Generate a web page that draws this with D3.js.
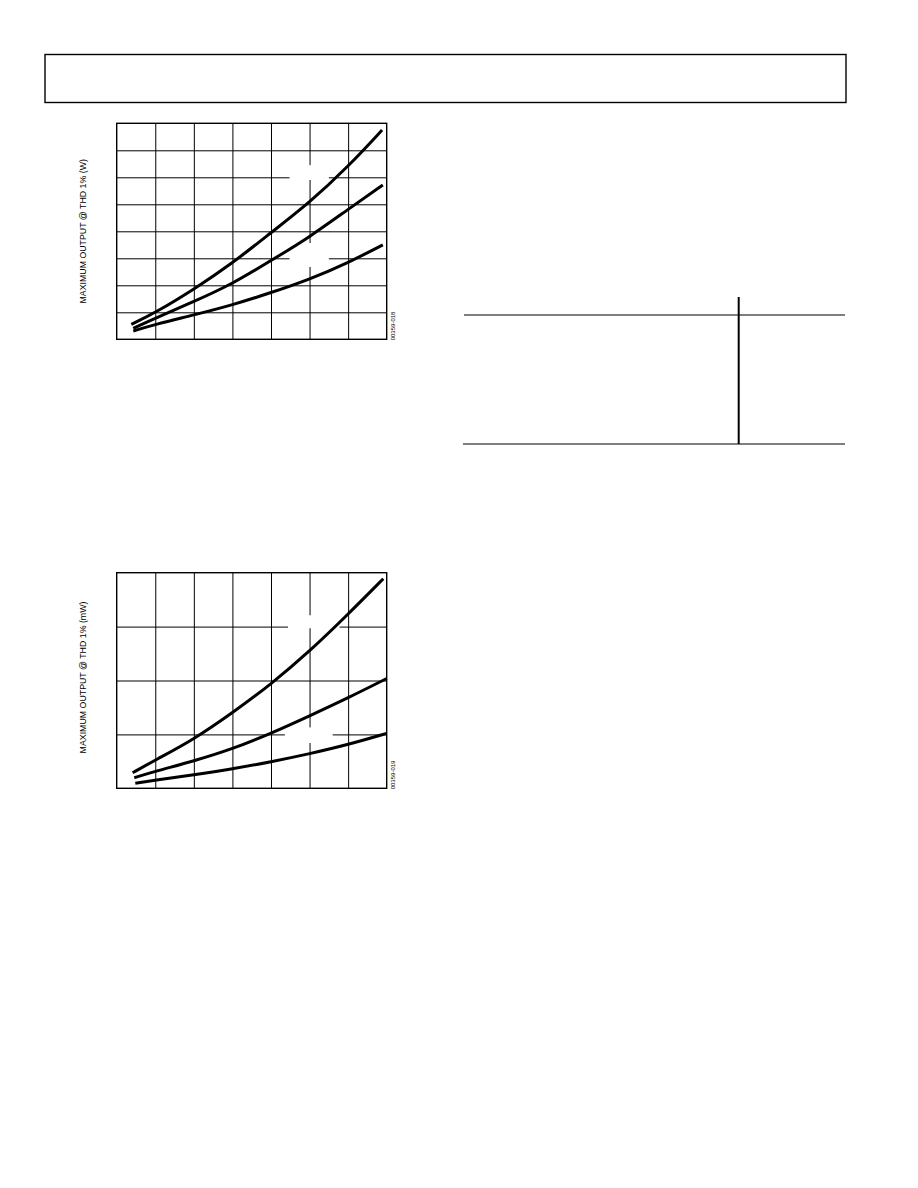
<!DOCTYPE html>
<html>
<head>
<meta charset="utf-8">
<script src="https://cdn.jsdelivr.net/npm/d3@7"></script>
<style>
  html, body { margin: 0; padding: 0; background: #fff; }
  svg { display: block; }
  text { font-family: "Liberation Sans", Arial, sans-serif; fill: #000; }
</style>
</head>
<body>
<svg id="chart" width="918" height="1188"></svg>
<script>
// ---------- DATA ----------
// Supply voltage (V) gridline values (x), shared by both plots
const xTicks = [2.0, 2.5, 3.0, 3.5, 4.0, 4.5, 5.0, 5.5];
// Plot 1: output power (W)
const yTicksW = [0, 0.2, 0.4, 0.6, 0.8, 1.0, 1.2, 1.4, 1.6];
// Plot 2: output power (mW)
const yTicksMW = [0, 100, 200, 300, 400];

const p1X = [2.19, 2.5, 3.0, 3.5, 4.0, 4.5, 5.0, 5.44];
const p1Top = [0.111, 0.197, 0.370, 0.563, 0.790, 1.012, 1.279, 1.550];
const p1MidX = [2.215, 2.5, 3.0, 3.5, 4.0, 4.5, 5.0, 5.45];
const p1Mid = [0.081, 0.156, 0.279, 0.410, 0.583, 0.757, 0.963, 1.143];
const p1Bot = [0.061, 0.111, 0.180, 0.254, 0.345, 0.444, 0.567, 0.699];

const p2TopX = [2.207, 2.5, 3.0, 3.5, 4.0, 4.5, 5.0, 5.456];
const p2Top = [28.9, 52.4, 90.7, 140, 193, 254, 323, 388.9];
const p2MidX = [2.228, 2.5, 3.0, 3.5, 4.0, 4.5, 5.0, 5.5];
const p2Mid = [19.6, 31.5, 50.6, 72.8, 101.9, 134.4, 167.8, 203.7];
const p2BotX = [2.241, 2.5, 3.0, 3.5, 4.0, 4.5, 5.0, 5.5];
const p2Bot = [9.3, 15.0, 25.0, 36.0, 49.0, 64.0, 81.0, 101.9];

// blank label backgrounds (data units: x0, x1, y0, y1)
const p1Boxes = [[4.24, 4.75, 1.18, 1.29], [4.24, 4.75, 0.536, 0.713]];
const p2Boxes = [[4.22, 4.89, 297, 321], [4.18, 4.80, 84, 113]];

const yLabel1 = "MAXIMUM OUTPUT @ THD 1% (W)";
const yLabel2 = "MAXIMUM OUTPUT @ THD 1% (mW)";
const figId1 = "00359-018";
const figId2 = "00359-019";

// ---------- DRAW ----------
const svg = d3.select("#chart");

// header frame
svg.append("rect").attr("x", 45).attr("y", 54.5).attr("width", 801).attr("height", 48)
  .attr("fill", "none").attr("stroke", "#000").attr("stroke-width", 1.4);

// empty table rules on the right
svg.append("line").attr("x1", 464).attr("x2", 845).attr("y1", 315).attr("y2", 315)
  .attr("stroke", "#000").attr("stroke-width", 1.2);
svg.append("line").attr("x1", 463).attr("x2", 845).attr("y1", 444).attr("y2", 444)
  .attr("stroke", "#000").attr("stroke-width", 1.2);
svg.append("line").attr("x1", 738.7).attr("x2", 738.7).attr("y1", 297).attr("y2", 444)
  .attr("stroke", "#000").attr("stroke-width", 2);

function drawPlot(cfg) {
  const g = svg.append("g");
  const x = d3.scaleLinear().domain([xTicks[0], xTicks[xTicks.length - 1]]).range([cfg.left, cfg.right]);
  const y = d3.scaleLinear().domain([cfg.yTicks[0], cfg.yTicks[cfg.yTicks.length - 1]]).range([cfg.bottom, cfg.top]);

  // gridlines via axes
  g.append("g").attr("transform", `translate(0,${cfg.bottom})`)
    .call(d3.axisBottom(x).tickValues(xTicks.slice(1, -1)).tickSize(-(cfg.bottom - cfg.top)).tickFormat(""))
    .call(a => a.select(".domain").remove())
    .call(a => a.selectAll("line").attr("stroke", "#000").attr("stroke-width", 1));
  g.append("g").attr("transform", `translate(${cfg.left},0)`)
    .call(d3.axisLeft(y).tickValues(cfg.yTicks.slice(1, -1)).tickSize(-(cfg.right - cfg.left)).tickFormat(""))
    .call(a => a.select(".domain").remove())
    .call(a => a.selectAll("line").attr("stroke", "#000").attr("stroke-width", 1));

  // blank label boxes
  g.selectAll("rect.box").data(cfg.boxes).join("rect").attr("class", "box")
    .attr("x", d => x(d[0])).attr("width", d => x(d[1]) - x(d[0]))
    .attr("y", d => y(d[3])).attr("height", d => y(d[2]) - y(d[3]))
    .attr("fill", "#fff");

  // frame
  g.append("rect").attr("x", cfg.left).attr("y", cfg.top)
    .attr("width", cfg.right - cfg.left).attr("height", cfg.bottom - cfg.top)
    .attr("fill", "none").attr("stroke", "#000").attr("stroke-width", 1.4);

  const line = d3.line().x(d => x(d[0])).y(d => y(d[1])).curve(d3.curveBasis);
  cfg.series.forEach(s => {
    g.append("path").datum(s.xs.map((v, i) => [v, s.ys[i]]))
      .attr("d", line).attr("fill", "none").attr("stroke", "#000")
      .attr("stroke-width", 3);
  });

  // y label
  g.append("text")
    .attr("transform", `translate(${cfg.labelX},${(cfg.top + cfg.bottom) / 2 + cfg.labelDy}) rotate(-90)`)
    .attr("text-anchor", "middle").attr("font-size", 8.8).text(cfg.label);

  // figure id
  g.append("text")
    .attr("transform", `translate(${cfg.right + 8.5},${cfg.bottom + 1}) rotate(-90)`)
    .attr("text-anchor", "start").attr("font-size", 6).text(cfg.figId);
}

drawPlot({
  left: 116.7, right: 386.7, top: 123.3, bottom: 339.3,
  yTicks: yTicksW, boxes: p1Boxes, label: yLabel1, labelX: 86, labelDy: 0, figId: figId1,
  series: [
    { xs: p1X, ys: p1Top },
    { xs: p1MidX, ys: p1Mid },
    { xs: p1MidX, ys: p1Bot }
  ]
});

drawPlot({
  left: 116.7, right: 386.7, top: 572.7, bottom: 788.3,
  yTicks: yTicksMW, boxes: p2Boxes, label: yLabel2, labelX: 86, labelDy: -3, figId: figId2,
  series: [
    { xs: p2TopX, ys: p2Top },
    { xs: p2MidX, ys: p2Mid },
    { xs: p2BotX, ys: p2Bot }
  ]
});
</script>
</body>
</html>
